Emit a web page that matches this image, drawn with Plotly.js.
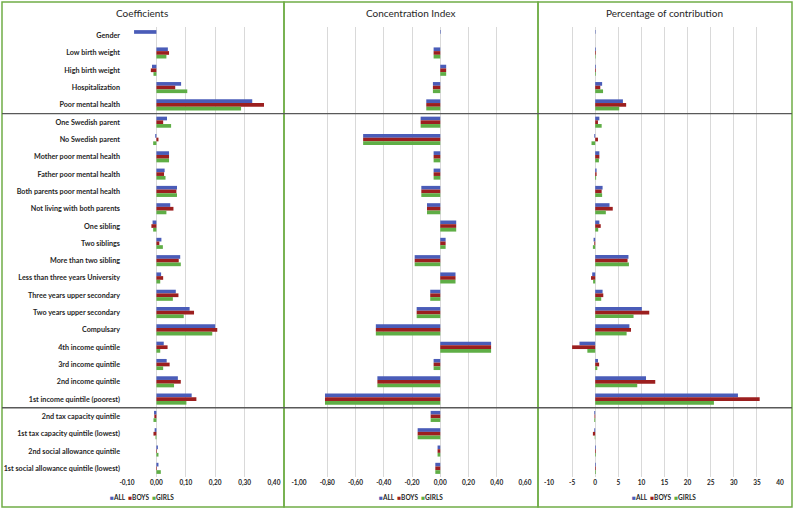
<!DOCTYPE html>
<html>
<head>
<meta charset="utf-8">
<script src="https://cdn.plot.ly/plotly-3.0.1.min.js"></script>
<style>
  html, body { margin: 0; padding: 0; background: #ffffff; }
  #chart { width: 793px; height: 509px; }
</style>
</head>
<body>
<div id="chart"></div>
<script>
const categories = [
  "Gender", "Low birth weight", "High birth weight", "Hospitalization", "Poor mental health",
  "One Swedish parent", "No Swedish parent", "Mother poor mental health", "Father poor mental health",
  "Both parents poor mental health", "Not living with both parents", "One sibling", "Two siblings",
  "More than two sibling", "Less than three years University", "Three years upper secondary",
  "Two years upper secondary", "Compulsary", "4th income quintile", "3rd income quintile",
  "2nd income quintile", "1st income quintile (poorest)", "2nd tax capacity quintile",
  "1st tax capacity quintile (lowest)", "2nd social allowance quintile", "1st social allowance quintile (lowest)"
];

const seriesNames = ["ALL", "BOYS", "GIRLS"];

const coefAll   = [-0.076, 0.039, -0.015, 0.084, 0.326, 0.036, -0.004, 0.043, 0.028, 0.070, 0.047, -0.013, 0.017, 0.081, 0.016, 0.066, 0.113, 0.200, 0.025, 0.035, 0.073, 0.120, -0.008, -0.006, 0.005, 0.007];
const coefBoys  = [null, 0.043, -0.019, 0.064, 0.366, 0.023, 0.007, 0.043, 0.026, 0.068, 0.058, -0.017, 0.010, 0.076, 0.023, 0.075, 0.128, 0.207, 0.038, 0.045, 0.083, 0.136, -0.007, -0.010, 0.002, 0.002];
const coefGirls = [null, 0.034, -0.010, 0.105, 0.288, 0.050, -0.011, 0.043, 0.031, 0.070, 0.034, -0.011, 0.022, 0.083, 0.013, 0.056, 0.093, 0.190, 0.013, 0.023, 0.060, 0.102, -0.010, -0.003, 0.007, 0.015];

const ciAll   = [0.004, -0.047, 0.042, -0.052, -0.099, -0.139, -0.546, -0.047, -0.047, -0.134, -0.094, 0.113, 0.038, -0.181, 0.108, -0.071, -0.167, -0.456, 0.360, -0.047, -0.445, -0.816, -0.068, -0.160, -0.019, -0.035];
const ciBoys  = [null, -0.047, 0.042, -0.052, -0.099, -0.139, -0.546, -0.047, -0.047, -0.134, -0.094, 0.113, 0.038, -0.181, 0.108, -0.071, -0.167, -0.456, 0.360, -0.047, -0.445, -0.816, -0.068, -0.160, -0.019, -0.035];
const ciGirls = [null, -0.047, 0.042, -0.052, -0.099, -0.139, -0.546, -0.047, -0.047, -0.134, -0.094, 0.113, 0.038, -0.181, 0.108, -0.071, -0.167, -0.456, 0.360, -0.047, -0.445, -0.816, -0.068, -0.160, -0.019, -0.035];

const pctAll   = [0.1, 0.15, 0.15, 1.5, 6.0, 0.9, -0.2, 0.9, 0.3, 1.6, 3.1, 0.9, -0.35, 7.2, -0.65, 1.6, 10.1, 7.4, -3.4, 0.6, 11.0, 30.9, -0.2, -0.2, 0.15, 0.15];
const pctBoys  = [null, 0.15, 0.15, 1.1, 6.7, 0.6, 0.6, 0.9, 0.3, 1.4, 3.8, 1.2, -0.2, 7.0, -0.9, 1.75, 11.7, 7.75, -5.0, 0.85, 13.0, 35.6, -0.15, -0.5, 0.15, 0.15];
const pctGirls = [null, 0.1, 0.15, 1.7, 5.2, 1.4, -0.8, 0.8, 0.2, 1.5, 2.3, 0.65, -0.5, 7.3, -0.45, 1.3, 8.3, 6.8, -1.7, 0.45, 9.1, 25.7, -0.2, -0.1, 0.15, 0.15];

const coefTicks = [-0.1, 0, 0.1, 0.2, 0.3, 0.4];
const coefTickText = ["-0,10", "0,00", "0,10", "0,20", "0,30", "0,40"];
const ciTicks = [-1.0, -0.8, -0.6, -0.4, -0.2, 0, 0.2, 0.4, 0.6];
const ciTickText = ["-1,00", "-0,80", "-0,60", "-0,40", "-0,20", "0,00", "0,20", "0,40", "0,60"];
const pctTicks = [-10, -5, 0, 5, 10, 15, 20, 25, 30, 35, 40];
const pctTickText = ["-10", "-5", "0", "5", "10", "15", "20", "25", "30", "35", "40"];

const panelTitles = ["Coefficients", "Concentration Index", "Percentage of contribution"];

// ---- styling / layout ----
const W = 793, H = 509;
const plotTop = 27, plotBottom = 477;
const colors = ["#4a5cb8", "#9c1f1f", "#5fae46"];
const FONT = "Lato, 'Open Sans', 'Liberation Sans', sans-serif";

const px = x => x / W;
const py = y => (plotBottom - y) / (plotBottom - plotTop);

const panels = [
  { data: [coefAll, coefBoys, coefGirls], ax: "x",  ay: "y",  dom: [127, 274], range: [-0.1, 0.4], tv: coefTicks, tt: coefTickText, cx: 142, box: [2, 284] },
  { data: [ciAll, ciBoys, ciGirls],       ax: "x2", ay: "y2", dom: [299, 525], range: [-1.0, 0.6], tv: ciTicks,   tt: ciTickText,   cx: 411, box: [284, 538] },
  { data: [pctAll, pctBoys, pctGirls],    ax: "x3", ay: "y3", dom: [549, 780], range: [-10, 40],   tv: pctTicks,  tt: pctTickText,  cx: 664, box: [538, 792] }
];

const traces = [];
panels.forEach(p => {
  p.data.forEach((vals, i) => {
    traces.push({
      type: "bar", orientation: "h",
      y: categories, x: vals,
      name: seriesNames[i],
      xaxis: p.ax, yaxis: p.ay,
      marker: { color: colors[i], line: { width: 0 } },
      showlegend: false,
      hoverinfo: "x+y+name"
    });
  });
});

const layout = {
  width: W, height: H,
  margin: { l: 0, r: 0, t: plotTop, b: H - plotBottom, pad: 0 },
  paper_bgcolor: "#ffffff", plot_bgcolor: "rgba(0,0,0,0)",
  barmode: "group", bargap: 0.36, bargroupgap: 0,
  font: { family: FONT, color: "#262626", size: 7 },
  showlegend: false,
  shapes: [], annotations: []
};

panels.forEach((p, k) => {
  const xs = k === 0 ? "xaxis" : "xaxis" + (k + 1);
  const ys = k === 0 ? "yaxis" : "yaxis" + (k + 1);
  layout[xs] = {
    domain: [px(p.dom[0]), px(p.dom[1])],
    range: p.range, anchor: p.ay,
    tickmode: "array", tickvals: p.tv, ticktext: p.tt,
    showgrid: true, gridcolor: "#d9d9d9", gridwidth: 1,
    zeroline: false, showline: false, ticks: "",
    tickfont: { family: FONT, size: 6.5, color: "#262626", weight: 700 },
    automargin: false, fixedrange: true
  };
  layout[ys] = {
    type: "category", categoryorder: "array", categoryarray: categories,
    range: [categories.length - 0.5, -0.5],
    anchor: p.ax, domain: [0, 1],
    showgrid: false, zeroline: false, showline: false, ticks: "",
    showticklabels: k === 0,
    ticklabelstandoff: 6,
    tickfont: { family: FONT, size: 7.2, color: "#262626", weight: 700 },
    automargin: false, fixedrange: true
  };
  if (k > 0) layout[ys].matches = "y";

  // panel border
  layout.shapes.push({
    type: "rect", xref: "paper", yref: "paper",
    x0: px(p.box[0]), x1: px(p.box[1]), y0: py(507), y1: py(2),
    line: { color: "#70ad47", width: 1.5 }, fillcolor: "rgba(0,0,0,0)", layer: "above"
  });

  // panel title
  layout.annotations.push({
    xref: "paper", yref: "paper", x: px(p.cx), y: py(13),
    xanchor: "center", yanchor: "middle", showarrow: false,
    text: panelTitles[k],
    font: { family: FONT, size: 10, color: "#262626" }
  });

  // legend (per panel)
  const legText = seriesNames.map((n, i) =>
    '<span style="color:' + colors[i] + '">■</span>' + n).join("  ");
  layout.annotations.push({
    xref: "paper", yref: "paper", x: px(p.cx), y: py(497),
    xanchor: "center", yanchor: "middle", showarrow: false,
    text: legText,
    font: { family: FONT, size: 6.5, color: "#262626", weight: 700 }
  });
});

// group separators across all panels
[4.5, 21.5].forEach(yv => {
  layout.shapes.push({
    type: "line", xref: "paper", yref: "y",
    x0: px(2), x1: px(792), y0: yv, y1: yv,
    line: { color: "#595959", width: 1.3 }, layer: "above"
  });
});

Plotly.newPlot("chart", traces, layout, { displayModeBar: false, staticPlot: true });
</script>
</body>
</html>
